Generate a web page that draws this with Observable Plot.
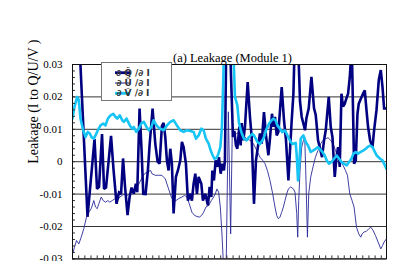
<!DOCTYPE html>
<html><head><meta charset="utf-8">
<script src="https://cdn.jsdelivr.net/npm/d3@7"></script>
<script src="https://cdn.jsdelivr.net/npm/@observablehq/plot@0.6"></script>
<style>
html,body{margin:0;padding:0;background:#fff;}
#chart{position:absolute;left:0;top:0;}
#chart svg text{font-family:"Liberation Serif",serif;}
#chart svg g.legend text{font-family:"DejaVu Sans",sans-serif;}
</style></head><body><div id="chart"></div>
<script>
// ∂Q/∂I (thick navy)
const qChannel = [4,15,22,24.5,26.5,29.5,31.5,33.5,38.5,41,44,46.5,48.5,50.5,52.5,55,57,59,61.3,63.3,64.7,67,69,70.7,73,75.3,77,80,
 82.7,85,87,89.3,91,92.7,94.3,96,97.7,99.3,101,103.3,105.3,107.7,109.3,111,113.3,115.3,117.7,119.3,121,122.7,124.3,126,128.7,130.3,132.7,135.3,137,138.7,
 139.7,141.3,143,144.7,146.3,148,149.7,151.3,152.3,153.7,157,160.3,161.7,163.3,164.7,166.7,168,169,170.7,172.3,175,177.3,179,181.3,183.3,185.7,187.3,189,
 191.3,193.3,195.7,197.3,199.3,200.7,202.3,204,205.7,209,211.3,213.3,215.7,217.3,219,220.7,222.3,225,227.3,229,230.7,232.3,233.7,236,238.7,241.3,243,
 245.3,247,249.3,251.3,253,256,258,259.7,262,263.7,265.3,267,268.7,270.3,272,273.7,275.3,277,279,281.3,283,284.7,286,288.7,290.3,292,293.7,295.3,297.3,
 299.7,301.3,303.7,306,308,309.7,311.3,313.7];
const qValue = [0.056,-0.017,0.007,-0.0084,-0.0078,0.0085,-0.0084,-0.008,0.008,-0.0025,-0.013,-0.0095,-0.010,0.001,-0.0078,-0.0165,-0.011,-0.008,-0.0099,-0.0068,-0.0094,0.0164,0.0035,-0.0099,-0.010,-0.0027,0.005,0.0164,
 0.0056,0,-0.0006,0.011,0.012,0.0076,0.0004,-0.0027,0.004,-0.0006,-0.016,-0.0047,-0.0027,0.0004,0.0061,0.0045,-0.0006,-0.012,-0.0099,-0.012,-0.0068,-0.0037,-0.0099,-0.0047,-0.0068,-0.012,-0.0099,-0.0135,-0.0078,-0.0109,
 -0.0027,-0.0058,0.0004,-0.0016,0.0014,-0.0037,-0.0006,-0.0027,0.0004,0.040,0.040,0.0076,0.0095,0.005,0.004,0.0108,0.005,0.0119,0.0066,0.0108,0.0246,0.0138,0.0076,-0.013,0.0004,0.0056,0.0087,0.0056,
 0.0153,0.0081,0.002,0.0072,0.0148,0.0108,0.0138,0.0081,0.0092,0.023,0.0128,0.0066,-0.0058,0.0035,0.0128,0.021,0.040,0.040,0.0186,0.0138,0.0117,0.0097,0.0134,0.0165,0.0262,0.0165,0.0144,
 0.0066,0.0045,0.0014,0.0066,0.0097,0.020,0.0107,0.0076,-0.0047,0.0014,0.0045,-0.0016,0.021,0.017,0.0179,0.0196,0.021,0.026,0.036,-0.0006,0.0004,0.0148,0.0179,0.0199,0.021,0.022,0.0159,0.0107,0.0066,
 0.0045,0.0097,0.0159,0.0252,0.0283,0.023,0.0164,0.0164];

// ∂U/∂I (thin navy)
const uChannel = [0,2,4,6.3,8.7,11.3,14,16.3,18.7,21.3,23,24.7,26.3,28.7,30.7,33,35.3,37.3,39.7,42,44.7,47.3,49.7,52.3,55,57.3,59.7,62,64.7,67.3,69.7,72,74.7,78,
 79.3,82.7,86,89.3,92.7,96,98.7,101,103.3,106,109.3,112,114.3,116.7,119.3,122,124.3,126.7,129,131,133.3,136,138.7,141,142.7,144.3,146,147.7,149.3,151,153.5,
 155.7,158,159.7,161.5,164,167.3,170.7,174,177.3,180.7,184,187.3,190,192.3,194.7,197.3,200,202.3,204,205.7,207.3,209,210.7,212.3,214,215.7,218,220.7,222.3,
 224,225,226,227.3,229,230.7,232,233.2,234.7,236,238,240.3,242.7,245.3,248,250.3,252.7,255.3,258,260.3,262.7,265.3,268,270.3,272.7,274.7,277,279.3,281.3,
 283.7,286,288,289.3,291.3,293.5,296,298,300.3,302.7,305.3,308,309.7,311.3,313.7];
const uValue = [-0.0285,-0.0264,-0.0243,-0.0254,-0.0233,-0.0207,-0.0171,-0.0156,-0.0145,-0.012,-0.014,-0.0145,-0.013,-0.0109,-0.012,-0.0125,-0.012,-0.0125,-0.012,-0.0115,-0.012,-0.0109,-0.0104,-0.0099,-0.0104,-0.0099,-0.0094,-0.0088,-0.0078,-0.0063,-0.0047,-0.0037,-0.0032,-0.0027,
 -0.0037,-0.0042,-0.0042,-0.0042,-0.0053,-0.0084,-0.0109,-0.012,-0.012,-0.0114,-0.0109,-0.0104,-0.0109,-0.013,-0.0156,-0.0166,-0.0169,-0.0171,-0.0166,-0.0156,-0.014,-0.0135,-0.012,-0.0109,-0.0099,-0.0084,-0.0094,-0.014,-0.0223,-0.033,-0.033,
 0.0154,-0.0223,0.0107,0.008,0.0087,0.0092,0.0081,0.0071,0.0066,0.0056,0.0035,0.0014,0.0004,-0.0006,-0.0027,-0.0058,-0.0099,-0.014,-0.0166,-0.0176,-0.0171,-0.0156,-0.014,-0.012,-0.0099,-0.0084,-0.0078,-0.0084,-0.0094,
 -0.016,-0.0233,-0.012,-0.0027,0.0045,0.0066,0.0076,-0.005,-0.0233,-0.0099,-0.0047,-0.0016,0.0014,0.0035,0.0056,0.0066,0.0071,0.0074,0.0066,0.0055,0.0035,0.0014,0.0002,-0.0011,-0.0027,-0.0042,-0.0099,-0.012,-0.014,
 -0.0202,-0.0223,-0.0233,-0.0223,-0.0217,-0.0215,-0.0207,-0.0202,-0.0212,-0.0228,-0.0248,-0.0269,-0.0259,-0.0248,-0.0238];

// ∂V/∂I (thick cyan)
const vChannel = [0,2,4.7,6.3,8,10.7,13,15.3,17.3,19,21.3,23,25.3,28,30.7,33,35.3,38,40.7,43,44.7,47.3,49.7,51.3,54,57.3,59.7,61.3,63.7,66.3,68.7,71.3,74,76.3,
 78.7,81,82.7,85.3,87.7,91,94.3,97.7,101,104.3,107.7,111,114.3,117.7,121,123.3,126,128.7,131,133.3,136,138,140,141.7,143.7,145.3,147.7,149.3,150.7,151.7,160,
 162.3,164.7,166.3,168.7,171.3,174,176.3,179.7,181.3,184.7,187.3,189.7,191.3,194,196.3,198.7,200.7,203,204.7,207.3,209.7,212,214,216.3,218,219.7,223,224,225.3,
 226.7,228,230.7,233,235.3,238,240.7,243,245.3,247.3,249.7,252,254,256.3,258.7,261.3,264,266.3,268.7,271.3,274,276.3,278.7,280.7,283,285.3,288,290.7,293,294.7,
 297.3,299.7,301.3,304,307.3,309.7,312,313.7];
const vValue = [0.0133,0.017,0.020,0.019,0.0133,0.0097,0.0076,0.0092,0.0087,0.0076,0.0071,0.0081,0.0097,0.0112,0.0118,0.0112,0.0133,0.0143,0.0148,0.0138,0.0133,0.0143,0.0128,0.0123,0.0133,0.0112,0.0102,0.0107,0.0092,0.0102,0.0118,0.0123,0.0107,0.0097,
 0.0107,0.0128,0.0118,0.0107,0.0102,0.0097,0.0112,0.0123,0.0128,0.0112,0.0097,0.0092,0.0097,0.0095,0.0092,0.0071,0.0081,0.0102,0.0097,0.0071,0.0056,0.0035,0.002,0.0009,0.0011,0.002,0.0045,0.0107,0.026,0.040,0.040,
 0.020,0.0174,0.012,0.0091,0.0071,0.0066,0.0076,0.0086,0.0081,0.0061,0.0055,0.0066,0.0076,0.0102,0.0117,0.0127,0.0133,0.0127,0.0112,0.0102,0.0091,0.0097,0.0086,0.0071,0.0061,0.0055,0.0058,0.0019,-0.0058,
 -0.0001,0.0071,0.0081,0.0061,0.005,0.003,0.0035,0.004,0.0045,0.0038,0.003,0.0019,0.0004,-0.0006,-0.0001,0.0009,0.0019,0.0009,-0.0001,-0.0006,-0.0011,-0.0001,0.0009,0.0025,0.003,0.0025,0.003,0.0035,0.004,0.0045,
 0.005,0.0045,0.0035,0.0019,0.0009,0.0004,-0.0011,-0.0022];

const yTicks = [-0.03, -0.02, -0.01, 0, 0.01, 0.02, 0.03];
const yTickLabels = ["-0.03", "-0.02", "-0.01", "0", "0.01", "0.02", "0.03"];
const seriesNames = ["\u2202 Q\u0303 /\u2202 I", "\u2202 \u0168 /\u2202 I", "\u2202 \u1E7C /\u2202 I"];
const seriesColors = ["#000080", "#2a2a9a", "#16c4f5"];
const seriesWidths = [2.6, 0.9, 2.6];
const titleText = "(a) Leakage (Module 1)";
const yLabelText = "Leakage (I to Q/U/V )";

const rows = (xs, ys) => xs.map((x, i) => ({x, y: ys[i]}));
const Q = rows(qChannel, qValue), U = rows(uChannel, uValue), V = rows(vChannel, vValue);
const minorTicks = d3.range(-15, 16).map(i => i * 0.002);
const xTicks = d3.range(0, 314, 6.17);

const serif = "Liberation Serif";
const plot = Plot.plot({
  width: 411, height: 261,
  marginLeft: 72, marginRight: 25, marginTop: 64, marginBottom: 2.6,
  style: {fontFamily: serif, fontSize: "11px", background: "white", overflow: "hidden", color: "black"},
  x: {domain: [0, 313.7]},
  y: {domain: [-0.03, 0.03]},
  marks: [
    Plot.ruleY(yTicks, {stroke: "#333", strokeWidth: 1}),
    Plot.line(U, {x: "x", y: "y", stroke: seriesColors[1], strokeWidth: seriesWidths[1], clip: true}),
    Plot.line(Q, {x: "x", y: "y", stroke: seriesColors[0], strokeWidth: seriesWidths[0], clip: true, strokeLinejoin: "miter", strokeMiterlimit: 2}),
    Plot.line(V, {x: "x", y: "y", stroke: seriesColors[2], strokeWidth: seriesWidths[2], clip: true}),
    Plot.axisY({ticks: minorTicks, tickSize: -3, tickFormat: () => "", anchor: "left", label: null, stroke: "#333"}),
    Plot.axisX({ticks: xTicks, tickSize: -3, tickFormat: () => "", anchor: "bottom", label: null, stroke: "#333"}),
    Plot.axisY({ticks: yTicks, tickSize: 0, tickPadding: 10, tickFormat: d => yTickLabels[yTicks.indexOf(d)], anchor: "left", label: null, fontSize: 11, fontFamily: serif}),
    Plot.frame({stroke: "#111", strokeWidth: 1}),
    Plot.text([titleText], {frameAnchor: "top", dy: -11, dx: 3, fontSize: 12.5, fontFamily: serif}),
    Plot.text([yLabelText], {frameAnchor: "left", dx: -39, dy: 2, rotate: -90, fontSize: 14, fontFamily: serif})
  ]
});
document.getElementById("chart").appendChild(plot);

// legend box
const svg = d3.select(plot);
const lg = svg.append("g").attr("class", "legend").attr("transform", "translate(101,62)");
lg.append("rect").attr("x", 0.5).attr("y", 0.5).attr("width", 70).attr("height", 38)
  .attr("fill", "white").attr("stroke", "#777").attr("stroke-width", 1);
seriesNames.forEach((name, i) => {
  const yy = 10.7 + i * 10.3;
  lg.append("line").attr("x1", 14).attr("x2", 29).attr("y1", yy).attr("y2", yy)
    .attr("stroke", seriesColors[i]).attr("stroke-width", seriesWidths[i] + 0.2);
  lg.append("text").attr("x", 32).attr("y", yy).attr("dy", "0.35em")
    .attr("font-family", "DejaVu Sans").attr("font-size", 9).attr("font-weight", "bold")
    .attr("fill", "#333").text(name);
});
</script></body></html>
